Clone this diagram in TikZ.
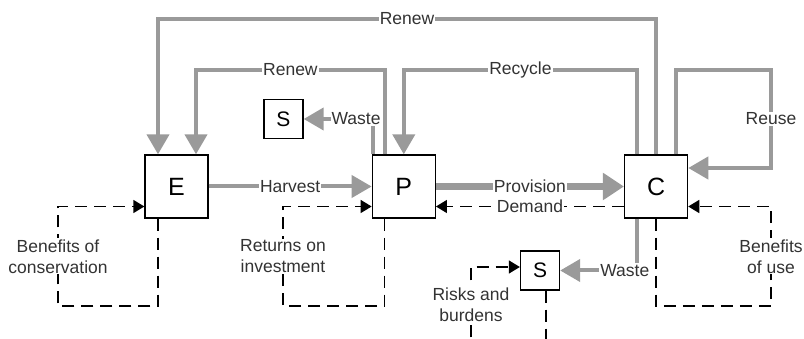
\documentclass[tikz,border=0pt]{standalone}
\usepackage{fontspec}
\setmainfont{Liberation Sans}
\usetikzlibrary{arrows.meta, positioning, calc}
\definecolor{flowgray}{HTML}{9A9A9A}
\definecolor{labelgray}{HTML}{333333}

\begin{document}
\begin{tikzpicture}[x=1pt, y=-1pt,
  box/.style={draw, line width=1.3pt, minimum size=63pt, inner sep=0pt, font=\fontsize{25}{25}\selectfont},
  sink/.style={draw, line width=1.3pt, minimum size=39pt, inner sep=0pt, font=\fontsize{21}{21}\selectfont},
  flow/.style={flowgray, line width=4pt, -{Triangle[length=20pt, width=22pt]}},
  bigflow/.style={flow, line width=6.5pt, -{Triangle[length=21pt, width=26pt]}},
  feedback/.style={black, line width=1.3pt, dash pattern=on 12pt off 7pt, -{Triangle[length=11pt, width=13pt]}},
  lab/.style={fill=white, text=labelgray, inner sep=1pt, align=center, font=\fontsize{17.5}{21}\selectfont}]
  \useasboundingbox (0,0) rectangle (804,339);
  \clip (0,0) rectangle (804,339);

  \node[box] (E) at (176.5,186.5) {E};
  \node[box, right=163pt of E] (P) {P};
  \node[box, right=188pt of P] (C) {C};
  \node[sink] (S1) at (283.5,119) {S};
  \node[sink] (S2) at (540,270.5) {S};

  \coordinate (outer) at (158,19);
  \coordinate (inner) at (196,70);
  \coordinate (reuse) at (771,70);
  \coordinate (consv) at (58,306);
  \coordinate (roi) at (283,306);
  \coordinate (use) at (771,306);
  \coordinate (risk) at (471,343);

  \draw[flow] (C.north) |- node[lab, pos=0.75] {Renew} (outer) -- (E.north -| outer);
  \draw[flow] ([xshift=-19pt]P.north) |- node[lab, pos=0.75] {Renew} (inner) -- (E.north -| inner);
  \draw[flow] ([xshift=-19pt]C.north) |- node[lab, pos=0.75] {Recycle} (P.north |- inner) -- (P.north);
  \draw[flow] ([xshift=20pt]C.north) |- (reuse) |- node[lab, pos=0.25] {Reuse} ([yshift=18.5pt]C.east);
  \draw[flow] ([xshift=1pt]P.north west) |- node[lab, pos=0.62] {Waste} (S1.east);
  \draw[flow] (E.east) -- node[lab] {Harvest} (P.west);
  \draw[bigflow] (P.east) -- node[lab] {Provision} (C.west);
  \draw[flow] ([xshift=-19pt]C.south) |- node[lab, pos=0.58] {Waste} (S2.east);

  \draw[feedback] ([yshift=-20pt]C.west) -- node[lab] {Demand} ([yshift=-20pt]P.east);
  \draw[feedback] ([xshift=-18.5pt]E.south) |- (consv) |- node[lab, pos=0.25] {Benefits of\\conservation} ([yshift=-20pt]E.west);
  \draw[feedback] ([xshift=-19pt]P.south) |- (roi) |- node[lab, pos=0.25] {Returns on\\investment} ([yshift=-20pt]P.west);
  \draw[feedback] (C.south) |- (use) |- node[lab, pos=0.25] {Benefits\\of use} ([yshift=-20pt]C.east);
  \draw[feedback] ([xshift=6pt]S2.south) |- (risk) |- node[lab, pos=0.25] {Risks and\\burdens} ([yshift=3.5pt]S2.west);
\end{tikzpicture}
\end{document}
